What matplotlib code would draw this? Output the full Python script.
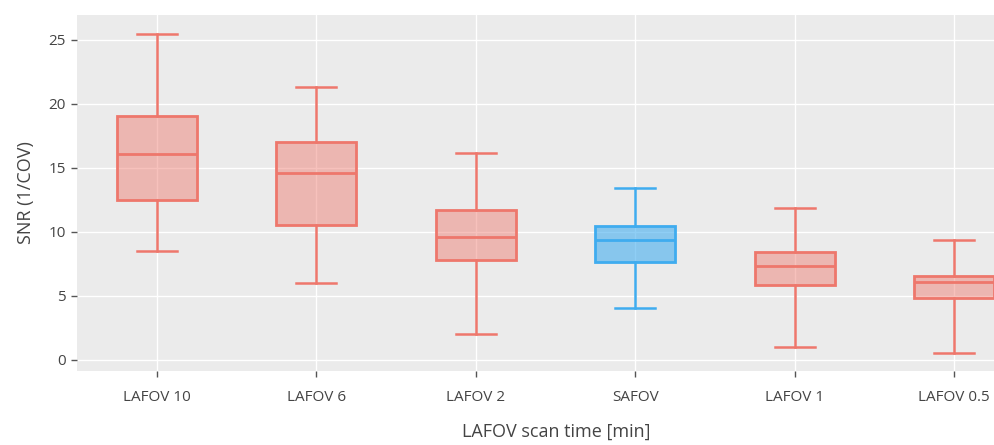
import matplotlib
matplotlib.use("Agg")
import matplotlib.pyplot as plt
from matplotlib.colors import to_rgba

# values
groups = ["LAFOV 10", "LAFOV 6", "LAFOV 2", "SAFOV", "LAFOV 1", "LAFOV 0.5"]
whislo = [8.5, 6.0, 2.05, 4.05, 1.0, 0.55]
q1 = [12.5, 10.55, 7.85, 7.65, 5.85, 4.85]
med = [16.1, 14.6, 9.6, 9.35, 7.35, 6.1]
q3 = [19.05, 17.05, 11.75, 10.5, 8.4, 6.55]
whishi = [25.5, 21.3, 16.2, 13.4, 11.85, 9.35]
yticks = [0, 5, 10, 15, 20, 25]

red = "#EE776C"
blue = "#3FACEF"
colors = [blue if g == "SAFOV" else red for g in groups]
fill_alpha = [0.58 if g == "SAFOV" else 0.45 for g in groups]

plt.rcParams['font.family'] = ['Open Sans', 'DejaVu Sans']

fig = plt.figure(figsize=(9.95, 4.45), dpi=100)
# plot area runs past the right edge of the picture, as in the reference
ax = fig.add_axes([77/995, 74/445, 957/995, 356/445])
ax.set_facecolor("#EBEBEB")

for i, g in enumerate(groups):
    st = [dict(label=g, whislo=whislo[i], q1=q1[i], med=med[i], q3=q3[i], whishi=whishi[i])]
    c = colors[i]
    ax.bxp(st, positions=[i], widths=0.5, showfliers=False, patch_artist=True,
           boxprops=dict(facecolor=to_rgba(c, fill_alpha[i]), edgecolor=c, linewidth=2),
           medianprops=dict(color=c, linewidth=2),
           whiskerprops=dict(color=c, linewidth=1.8),
           capprops=dict(color=c, linewidth=1.8),
           capwidths=0.25)

ax.set_xlim(-0.5, 5.5)
ax.set_ylim(-0.86, 26.95)
ax.set_xticks(range(len(groups)))
ax.set_xticklabels(groups)
ax.set_yticks(yticks)
ax.grid(True, color="white", linewidth=1.0)
ax.set_axisbelow(True)
for s in ax.spines.values():
    s.set_visible(False)
ax.tick_params(axis="both", colors="#555555", labelcolor="#444444", labelsize=11, length=4, width=1)
ax.tick_params(axis="x", pad=10)
ax.tick_params(axis="y", pad=4)

ax.set_ylabel("SNR (1/COV)", fontsize=13, color="#444444", labelpad=10)
fig.text(556/995, 1 - 432/445, "LAFOV scan time [min]", fontsize=13, color="#444444",
         ha="center", va="center")

fig.savefig("out.png", dpi=100, facecolor="white")
